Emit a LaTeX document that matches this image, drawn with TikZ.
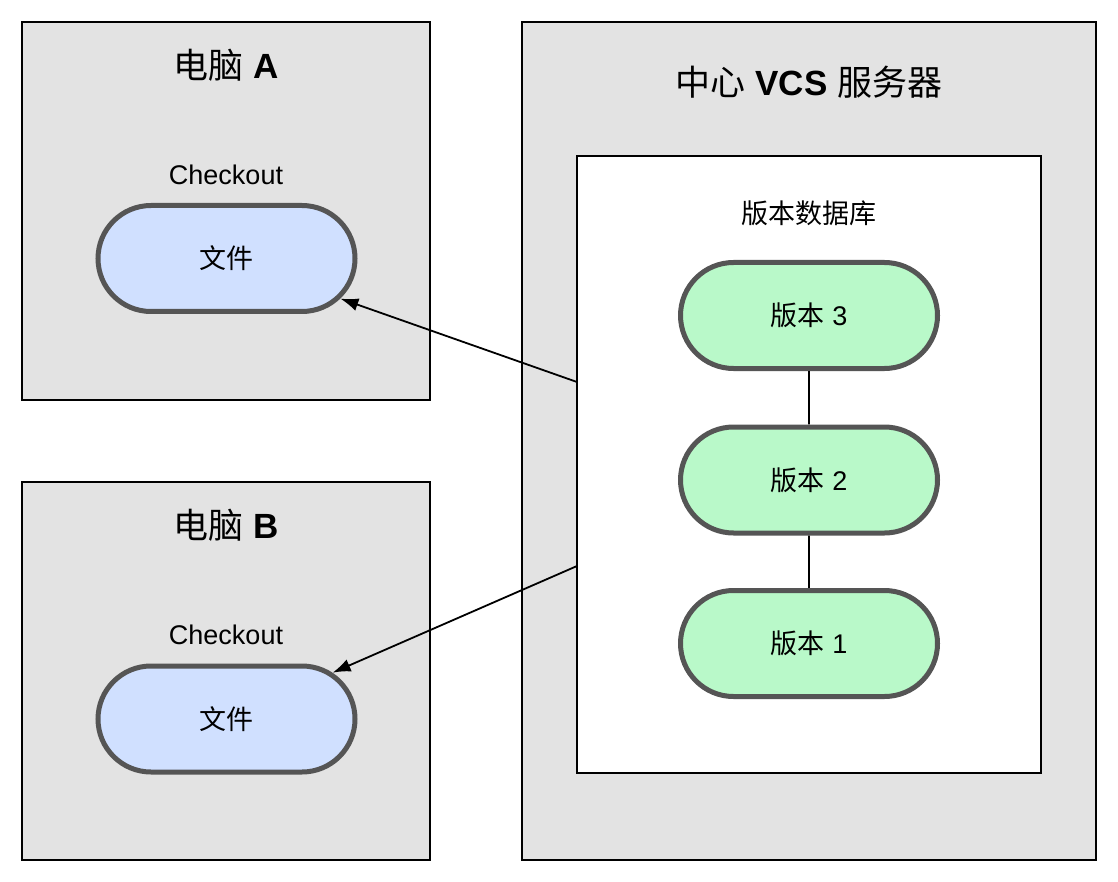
\documentclass[tikz,border=0pt]{standalone}
\usepackage{fontspec}
\setmainfont{Liberation Sans}
\newfontfamily\cjk{Noto Sans CJK SC}
\usetikzlibrary{shapes.misc,arrows.meta}
\definecolor{boxgray}{HTML}{E3E3E3}
\definecolor{fileblue}{HTML}{D0E0FF}
\definecolor{vergreen}{HTML}{B9F9C9}
\definecolor{pillborder}{HTML}{555555}
\tikzset{
  panel/.style={draw=black, line width=2pt, fill=boxgray},
  inner/.style={draw=black, line width=2pt, fill=white},
  pill/.style={rounded rectangle, draw=pillborder, line width=5pt,
    minimum width=257pt, minimum height=106pt, inner sep=0pt,
    font=\fontsize{27}{32}\selectfont},
  filepill/.style={pill, fill=fileblue},
  verpill/.style={pill, fill=vergreen},
  title/.style={font=\fontsize{35}{40}\selectfont},
  label/.style={font=\fontsize{27}{32}\selectfont},
  link/.style={draw=black, line width=1.8pt},
  arr/.style={draw=black, line width=1.8pt, -{Latex[length=18pt,width=13pt]}}
}
\begin{document}
\begin{tikzpicture}[x=1pt,y=-1pt]
\useasboundingbox (0,0) rectangle (1118,882);
\fill[white] (0,0) rectangle (1118,882);
% panels
\draw[panel] (22,22) rectangle (430,400);
\draw[panel] (22,482) rectangle (430,860);
\draw[panel] (522,22) rectangle (1096,860);
\draw[inner] (577,156) rectangle (1041,773);
% titles
\node[title] (tA) at (226,65) {{\cjk 电脑} \textbf{A}};
\node[title] (tB) at (226,525) {{\cjk 电脑} \textbf{B}};
\node[title] (tS) at (809,82) {{\cjk 中心} \textbf{VCS} {\cjk 服务器}};
\node[label] (cA) at (226,175) {Checkout};
\node[label] (cB) at (226,635) {Checkout};
\node[label] (db) at (809,213) {\cjk 版本数据库};
% pills
\node[filepill] (fA) at (226.5,258.5) {\cjk 文件};
\node[filepill] (fB) at (226.5,719) {\cjk 文件};
\node[verpill] (v3) at (809,315.5) {{\cjk 版本} 3};
\node[verpill] (v2) at (809,480) {{\cjk 版本} 2};
\node[verpill] (v1) at (809,643.5) {{\cjk 版本} 1};
% connectors
\draw[link] (v3) -- (v2);
\draw[link] (v2) -- (v1);
\coordinate (sA) at (577,382);
\coordinate (sB) at (577,566);
\draw[arr] (sA) -- (fA);
\draw[arr] (sB) -- (fB);
\end{tikzpicture}
\end{document}
